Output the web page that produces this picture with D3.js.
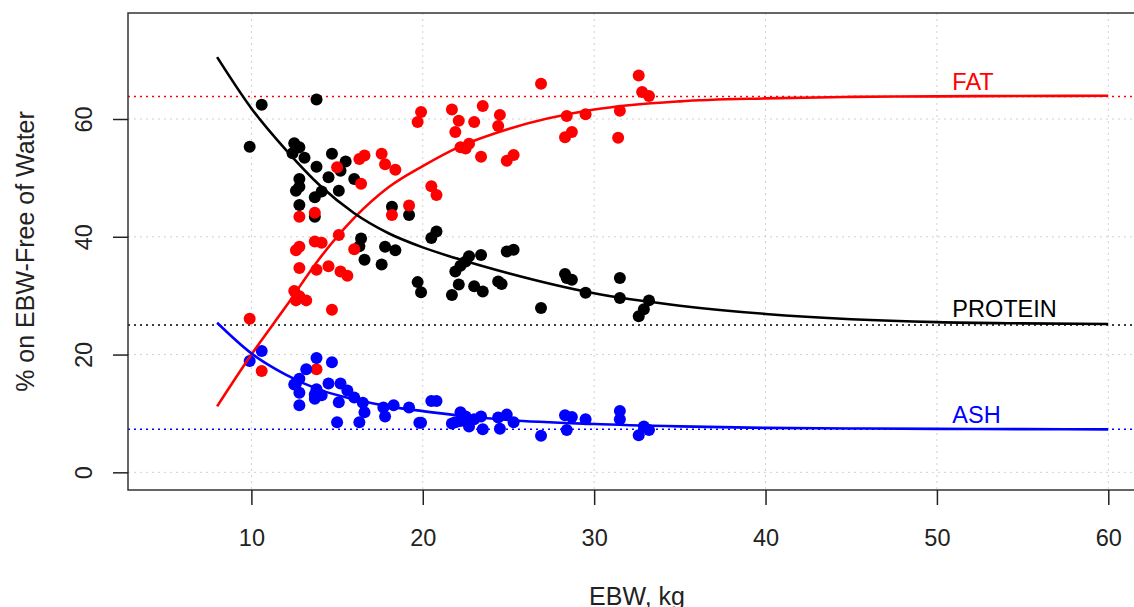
<!DOCTYPE html>
<html>
<head>
<meta charset="utf-8">
<script src="https://cdn.jsdelivr.net/npm/d3@7"></script>
<style>
  body { margin: 0; background: #fff; }
  text { font-family: "Liberation Sans", Arial, sans-serif; }
</style>
</head>
<body>
<div id="chart"></div>
<script>
// EBW (kg) vs % on EBW-free of water
var xTicks = [10, 20, 30, 40, 50, 60];
var yTicks = [0, 20, 40, 60];

// fitted curves
var curveEbw = [8, 10, 12, 14, 16, 18, 20, 22, 25, 30, 35, 40, 45, 50, 55, 60];
var fatCurve = [11.2, 20.0, 28.1, 36.4, 43.2, 48.4, 52.0, 55.1, 58.3, 61.6, 63.0, 63.5, 63.75, 63.85, 63.9, 63.95];
var proteinCurve = [70.5, 61.8, 54.8, 48.7, 44.0, 40.6, 38.2, 36.3, 33.8, 30.4, 28.3, 26.9, 26.0, 25.5, 25.3, 25.2];
var ashCurve = [25.4, 20.2, 16.6, 14.0, 12.4, 11.2, 10.4, 9.7, 8.9, 8.2, 7.8, 7.55, 7.45, 7.38, 7.33, 7.3];

// asymptotes
var fatLimit = 63.8;
var proteinLimit = 25.0;
var ashLimit = 7.3;

// observed points [EBW, %]
var proteinPoints = [
  [9.9, 55.3], [10.6, 62.4], [13.8, 63.3], [12.5, 55.9], [12.8, 55.2], [12.4, 54.2], [13.1, 53.4],
  [14.7, 54.1], [13.8, 51.9], [15.5, 52.8], [15.2, 51.2], [14.5, 50.1], [16.0, 49.8], [12.8, 49.8],
  [12.8, 48.5], [12.6, 47.8], [14.1, 47.7], [15.1, 47.8], [13.7, 46.7], [12.8, 45.4], [13.7, 43.4],
  [18.2, 45.1], [16.4, 39.7], [16.3, 38.4], [17.8, 38.3], [18.4, 37.7], [16.6, 36.1], [17.6, 35.3],
  [19.2, 43.7], [20.8, 40.9], [20.5, 39.8], [19.7, 32.3], [19.9, 30.6], [21.9, 34.1], [22.2, 35.1],
  [22.5, 35.8], [22.7, 36.7], [22.1, 31.9], [21.7, 30.1], [23.0, 31.6], [23.5, 30.7], [23.4, 36.9],
  [24.9, 37.5], [25.3, 37.8], [24.4, 32.4], [24.6, 32.0], [26.9, 27.9], [28.3, 33.7], [28.4, 33.0],
  [28.7, 32.7], [29.5, 30.5], [31.5, 33.0], [31.5, 29.6], [33.2, 29.2], [32.9, 27.7], [32.6, 26.5]
];
var fatPoints = [
  [9.9, 26.1], [10.6, 17.2], [13.8, 17.5], [12.5, 30.8], [12.6, 29.2], [12.8, 29.9], [13.2, 29.2],
  [14.7, 27.6], [12.8, 34.7], [13.8, 34.4], [14.5, 35.0], [15.2, 34.1], [15.6, 33.4], [12.6, 37.7],
  [12.8, 38.3], [13.7, 39.2], [14.1, 39.0], [15.1, 40.3], [16.0, 37.9], [12.8, 43.4], [13.7, 44.1],
  [15.0, 51.8], [16.3, 53.2], [16.6, 53.8], [17.6, 54.1], [17.8, 52.3], [18.4, 51.4], [16.4, 49.0],
  [18.2, 43.7], [19.2, 45.3], [20.5, 48.6], [20.8, 47.1], [19.9, 61.2], [19.7, 59.5], [21.7, 61.6],
  [22.1, 59.7], [21.9, 57.8], [23.5, 62.2], [23.0, 59.5], [24.5, 60.7], [24.4, 58.8], [22.2, 55.2],
  [22.5, 55.0], [22.7, 55.8], [23.4, 53.6], [24.9, 52.9], [25.3, 53.9], [26.9, 66.0], [28.4, 60.5],
  [28.7, 57.8], [28.3, 56.9], [29.5, 60.8], [31.5, 61.4], [31.4, 56.8], [32.6, 67.4], [32.8, 64.6],
  [33.2, 63.9]
];
var ashPoints = [
  [9.9, 18.9], [10.6, 20.6], [12.8, 15.9], [12.6, 15.1], [12.5, 14.9], [12.8, 13.5], [12.8, 11.4],
  [13.8, 19.4], [13.2, 17.5], [14.7, 18.7], [13.8, 14.1], [13.7, 13.2], [13.7, 12.5], [14.1, 13.1],
  [14.5, 15.1], [15.2, 15.1], [15.6, 13.9], [15.1, 11.9], [16.0, 12.7], [16.5, 11.8], [16.6, 10.2],
  [17.7, 11.0], [18.3, 11.4], [17.8, 9.5], [15.0, 8.5], [16.3, 8.5], [19.2, 11.0], [19.8, 8.4],
  [19.9, 8.4], [20.5, 12.1], [20.8, 12.1], [21.7, 8.3], [21.9, 8.5], [22.2, 10.2], [22.2, 8.7],
  [22.5, 9.5], [22.7, 7.8], [23.0, 9.0], [23.4, 9.5], [23.5, 7.3], [24.4, 9.3], [24.5, 7.4],
  [24.9, 9.8], [25.3, 8.5], [26.9, 6.2], [28.3, 9.7], [28.7, 9.4], [28.4, 7.2], [29.5, 9.0],
  [31.5, 10.4], [31.5, 9.0], [32.6, 6.3], [32.9, 7.8], [33.2, 7.2]
];

var labels = ["FAT", "PROTEIN", "ASH"];

var svgWidth = 1134;
var svgHeight = 607;
var margin = { top: 13, right: -12, bottom: 117, left: 128 };
var width = svgWidth - margin.left - margin.right;
var height = svgHeight - margin.top - margin.bottom;

var svg = d3.select("#chart")
  .append("svg")
    .attr("width", svgWidth)
    .attr("height", svgHeight);

var chart = svg.append("g")
  .attr("transform", `translate(${margin.left}, ${margin.top})`);

var xScale = d3.scaleLinear().domain([2.8, 62.2]).range([0, width]);
var yScale = d3.scaleLinear().domain([-3, 78]).range([height, 0]);

// grid
chart.selectAll(".vgrid")
  .data(xTicks)
  .enter()
  .append("line")
    .attr("x1", d => xScale(d)).attr("x2", d => xScale(d))
    .attr("y1", 0).attr("y2", height)
    .attr("stroke", "#cfcfcf")
    .attr("stroke-dasharray", "2,4");

chart.selectAll(".hgrid")
  .data(yTicks)
  .enter()
  .append("line")
    .attr("x1", 0).attr("x2", width)
    .attr("y1", d => yScale(d)).attr("y2", d => yScale(d))
    .attr("stroke", "#cfcfcf")
    .attr("stroke-dasharray", "2,4");

// asymptote lines
var limits = [[fatLimit, "#ff0000"], [proteinLimit, "#000000"], [ashLimit, "#0000ff"]];
chart.selectAll(".limit")
  .data(limits)
  .enter()
  .append("line")
    .attr("x1", 0).attr("x2", width)
    .attr("y1", d => yScale(d[0])).attr("y2", d => yScale(d[0]))
    .attr("stroke", d => d[1])
    .attr("stroke-width", 1.5)
    .attr("stroke-dasharray", "2,4");

// points
function drawPoints(pts, color) {
  chart.append("g")
    .selectAll("circle")
    .data(pts)
    .enter()
    .append("circle")
      .attr("cx", d => xScale(d[0]))
      .attr("cy", d => yScale(d[1]))
      .attr("r", 6)
      .attr("fill", color);
}
drawPoints(proteinPoints, "#000000");
drawPoints(fatPoints, "#ff0000");
drawPoints(ashPoints, "#0000ff");

// fitted curves
var line = d3.line()
  .x(d => xScale(d[0]))
  .y(d => yScale(d[1]))
  .curve(d3.curveMonotoneX);

var curves = [[fatCurve, "#ff0000"], [proteinCurve, "#000000"], [ashCurve, "#0000ff"]];
curves.forEach(function(c) {
  chart.append("path")
    .datum(curveEbw.map((x, i) => [x, c[0][i]]))
    .attr("d", line)
    .attr("fill", "none")
    .attr("stroke", c[1])
    .attr("stroke-width", 2.6);
});

// curve labels
var labelY = [fatLimit + 1.1, proteinLimit + 1.4, ashLimit + 1.0];
var labelColor = ["#ff0000", "#000000", "#0000ff"];
chart.selectAll(".curveLabel")
  .data(labels)
  .enter()
  .append("text")
    .attr("x", xScale(50.9))
    .attr("y", (d, i) => yScale(labelY[i]))
    .attr("font-size", "23.5px")
    .attr("fill", (d, i) => labelColor[i])
    .text(d => d);

// box
chart.append("rect")
  .attr("x", 0).attr("y", 0)
  .attr("width", width).attr("height", height)
  .attr("fill", "none")
  .attr("stroke", "#333")
  .attr("stroke-width", 1.5);

// axes
var bottomAxis = d3.axisBottom(xScale).tickValues(xTicks).tickSize(15).tickPadding(24);
var xAxisG = chart.append("g")
  .attr("transform", `translate(0, ${height})`)
  .call(bottomAxis);
xAxisG.select(".domain").remove();
xAxisG.selectAll("line").attr("stroke", "#222").attr("stroke-width", 1.5);
xAxisG.selectAll("text")
  .attr("font-size", "23.5px")
  .attr("fill", "#222")
  .style("font-family", "'Liberation Sans', Arial, sans-serif");

var leftAxis = d3.axisLeft(yScale).tickValues(yTicks).tickSize(15).tickPadding(0);
var yAxisG = chart.append("g").call(leftAxis);
yAxisG.select(".domain").remove();
yAxisG.selectAll("line").attr("stroke", "#222").attr("stroke-width", 1.5);
yAxisG.selectAll("text")
  .attr("x", 0).attr("y", 0).attr("dy", null)
  .attr("transform", "translate(-36, 0) rotate(-90)")
  .attr("text-anchor", "middle")
  .attr("font-size", "23.5px")
  .attr("fill", "#222")
  .style("font-family", "'Liberation Sans', Arial, sans-serif");

// axis titles
svg.append("text")
  .attr("x", margin.left + width / 2)
  .attr("y", 605)
  .attr("text-anchor", "middle")
  .attr("font-size", "25px")
  .attr("fill", "#222")
  .text("EBW, kg");

svg.append("text")
  .attr("transform", `translate(33.5, ${margin.top + height / 2}) rotate(-90)`)
  .attr("text-anchor", "middle")
  .attr("font-size", "25px")
  .attr("fill", "#222")
  .text("% on EBW-Free of Water");
</script>
</body>
</html>
